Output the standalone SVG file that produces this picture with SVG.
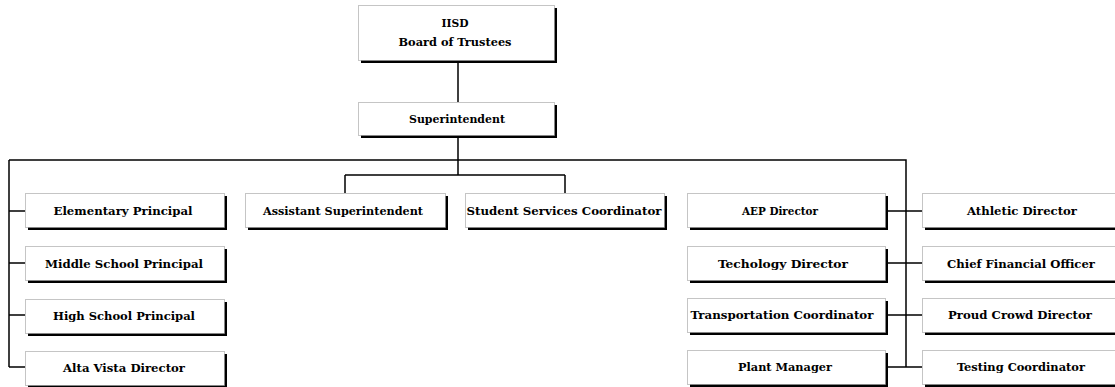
<svg xmlns="http://www.w3.org/2000/svg" width="1115" height="387" viewBox="0 0 1115 387">
<style>
.sh{fill:#000}
.bx{fill:#fff;stroke:#8a8a8a;stroke-width:1;stroke-dasharray:1 1}
.t{font-family:"DejaVu Serif Condensed","Liberation Serif",serif;font-weight:bold;font-size:11px;fill:#000;text-anchor:middle}
.ln{stroke:#000;stroke-width:1.5;fill:none}
</style>
<rect width="1115" height="387" fill="#fff"/>
<g id="connectors">
<path class="ln" d="M458 61V102M458 137V175M345 175H565M345 175V193M565 175V193M9 160H906V367M9 160V367M9 211H25M9 263H25M9 315H25M9 367H25M888 211H922M888 263H922M888 315H922M888 367H922"/>
</g>
<g id="board"><rect class="sh" x="361" y="8" width="196" height="55"/><rect class="bx" x="358.5" y="5.5" width="196" height="55"/><text class="t" x="455" y="27" textLength="27" lengthAdjust="spacingAndGlyphs">IISD</text><text class="t" x="455" y="46" textLength="113" lengthAdjust="spacingAndGlyphs">Board of Trustees</text></g>
<g id="superintendent"><rect class="sh" x="361" y="105" width="196" height="33"/><rect class="bx" x="358.5" y="102.5" width="196" height="33"/><text class="t" x="457" y="123" textLength="96" lengthAdjust="spacingAndGlyphs">Superintendent</text></g>
<g id="asst"><rect class="sh" x="248" y="196" width="200" height="34"/><rect class="bx" x="245.5" y="193.5" width="200" height="34"/><text class="t" x="343" y="215" textLength="160" lengthAdjust="spacingAndGlyphs">Assistant Superintendent</text></g>
<g id="student"><rect class="sh" x="468" y="196" width="199" height="34"/><rect class="bx" x="465.5" y="193.5" width="199" height="34"/><text class="t" x="564" y="215" textLength="195" lengthAdjust="spacingAndGlyphs">Student Services Coordinator</text></g>
<g id="elem"><rect class="sh" x="28" y="196" width="199" height="34"/><rect class="bx" x="25.5" y="193.5" width="199" height="34"/><text class="t" x="123" y="215" textLength="139" lengthAdjust="spacingAndGlyphs">Elementary Principal</text></g>
<g id="middle"><rect class="sh" x="28" y="249" width="199" height="34"/><rect class="bx" x="25.5" y="246.5" width="199" height="34"/><text class="t" x="124" y="268" textLength="158" lengthAdjust="spacingAndGlyphs">Middle School Principal</text></g>
<g id="high"><rect class="sh" x="28" y="302" width="199" height="34"/><rect class="bx" x="25.5" y="299.5" width="199" height="34"/><text class="t" x="124" y="320" textLength="142" lengthAdjust="spacingAndGlyphs">High School Principal</text></g>
<g id="alta"><rect class="sh" x="28" y="354" width="199" height="34"/><rect class="bx" x="25.5" y="351.5" width="199" height="34"/><text class="t" x="124" y="372" textLength="122" lengthAdjust="spacingAndGlyphs">Alta Vista Director</text></g>
<g id="aep"><rect class="sh" x="690" y="196" width="198" height="34"/><rect class="bx" x="687.5" y="193.5" width="198" height="34"/><text class="t" x="780" y="215" textLength="76" lengthAdjust="spacingAndGlyphs">AEP Director</text></g>
<g id="tech"><rect class="sh" x="690" y="249" width="198" height="34"/><rect class="bx" x="687.5" y="246.5" width="198" height="34"/><text class="t" x="783" y="268" textLength="130" lengthAdjust="spacingAndGlyphs">Techology Director</text></g>
<g id="transport"><rect class="sh" x="690" y="301" width="198" height="34"/><rect class="bx" x="687.5" y="298.5" width="198" height="34"/><text class="t" x="782" y="319" textLength="183" lengthAdjust="spacingAndGlyphs">Transportation Coordinator</text></g>
<g id="plant"><rect class="sh" x="690" y="353" width="198" height="34"/><rect class="bx" x="687.5" y="350.5" width="198" height="34"/><text class="t" x="785" y="371" textLength="94" lengthAdjust="spacingAndGlyphs">Plant Manager</text></g>
<g id="athletic"><rect class="sh" x="925" y="196" width="200" height="34"/><rect class="bx" x="922.5" y="193.5" width="200" height="34"/><text class="t" x="1022" y="215" textLength="110" lengthAdjust="spacingAndGlyphs">Athletic Director</text></g>
<g id="cfo"><rect class="sh" x="925" y="249" width="200" height="34"/><rect class="bx" x="922.5" y="246.5" width="200" height="34"/><text class="t" x="1021" y="268" textLength="148" lengthAdjust="spacingAndGlyphs">Chief Financial Officer</text></g>
<g id="proud"><rect class="sh" x="925" y="301" width="200" height="34"/><rect class="bx" x="922.5" y="298.5" width="200" height="34"/><text class="t" x="1020" y="319" textLength="144" lengthAdjust="spacingAndGlyphs">Proud Crowd Director</text></g>
<g id="testing"><rect class="sh" x="925" y="353" width="200" height="34"/><rect class="bx" x="922.5" y="350.5" width="200" height="34"/><text class="t" x="1021" y="371" textLength="128" lengthAdjust="spacingAndGlyphs">Testing Coordinator</text></g>
</svg>
